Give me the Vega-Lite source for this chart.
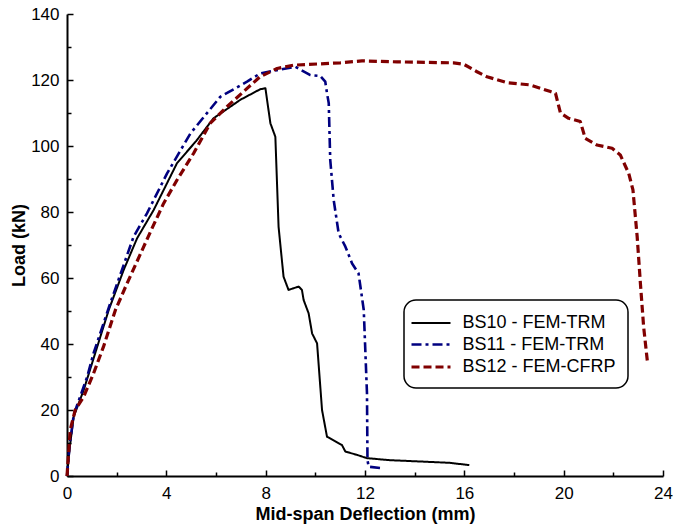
{
  "$schema": "https://vega.github.io/schema/vega-lite/v6.json",
  "width": 596,
  "height": 462,
  "autosize": {"type": "none"},
  "padding": {"left": 67, "top": 14, "right": 10, "bottom": 55},
  "background": "white",
  "config": {
    "view": {"stroke": null},
    "font": "Liberation Sans",
    "axis": {
      "grid": false,
      "domainColor": "black",
      "domainWidth": 2,
      "tickColor": "black",
      "tickWidth": 1.5,
      "labelFont": "Liberation Sans",
      "labelFontSize": 17,
      "labelColor": "black",
      "titleFont": "Liberation Sans",
      "titleFontSize": 18,
      "titleFontWeight": "bold",
      "titleColor": "black",
      "labelFlush": false,
      "labelOverlap": false
    }
  },
  "data": {
    "values": [
      {"s": "BS10 - FEM-TRM", "i": 0, "x": 0, "y": 0},
      {"s": "BS10 - FEM-TRM", "i": 1, "x": 0.1, "y": 8},
      {"s": "BS10 - FEM-TRM", "i": 2, "x": 0.27, "y": 18},
      {"s": "BS10 - FEM-TRM", "i": 3, "x": 0.67, "y": 26},
      {"s": "BS10 - FEM-TRM", "i": 4, "x": 1.21, "y": 39},
      {"s": "BS10 - FEM-TRM", "i": 5, "x": 1.68, "y": 50.3},
      {"s": "BS10 - FEM-TRM", "i": 6, "x": 2.28, "y": 62.4},
      {"s": "BS10 - FEM-TRM", "i": 7, "x": 2.82, "y": 72},
      {"s": "BS10 - FEM-TRM", "i": 8, "x": 3.49, "y": 80.6},
      {"s": "BS10 - FEM-TRM", "i": 9, "x": 4.43, "y": 94.8},
      {"s": "BS10 - FEM-TRM", "i": 10, "x": 5.2, "y": 101.5},
      {"s": "BS10 - FEM-TRM", "i": 11, "x": 5.9, "y": 108.4},
      {"s": "BS10 - FEM-TRM", "i": 12, "x": 6.98, "y": 114},
      {"s": "BS10 - FEM-TRM", "i": 13, "x": 7.78, "y": 117.2},
      {"s": "BS10 - FEM-TRM", "i": 14, "x": 7.99, "y": 117.5},
      {"s": "BS10 - FEM-TRM", "i": 15, "x": 8.19, "y": 106.9},
      {"s": "BS10 - FEM-TRM", "i": 16, "x": 8.39, "y": 102.8},
      {"s": "BS10 - FEM-TRM", "i": 17, "x": 8.52, "y": 75.5},
      {"s": "BS10 - FEM-TRM", "i": 18, "x": 8.72, "y": 60.4},
      {"s": "BS10 - FEM-TRM", "i": 19, "x": 8.92, "y": 56.4},
      {"s": "BS10 - FEM-TRM", "i": 20, "x": 9.33, "y": 57.4},
      {"s": "BS10 - FEM-TRM", "i": 21, "x": 9.46, "y": 56.4},
      {"s": "BS10 - FEM-TRM", "i": 22, "x": 9.53, "y": 53.3},
      {"s": "BS10 - FEM-TRM", "i": 23, "x": 9.73, "y": 49.3},
      {"s": "BS10 - FEM-TRM", "i": 24, "x": 9.87, "y": 43.2},
      {"s": "BS10 - FEM-TRM", "i": 25, "x": 10.07, "y": 40.2},
      {"s": "BS10 - FEM-TRM", "i": 26, "x": 10.27, "y": 20},
      {"s": "BS10 - FEM-TRM", "i": 27, "x": 10.47, "y": 11.9},
      {"s": "BS10 - FEM-TRM", "i": 28, "x": 11.07, "y": 9.4},
      {"s": "BS10 - FEM-TRM", "i": 29, "x": 11.21, "y": 7.4},
      {"s": "BS10 - FEM-TRM", "i": 30, "x": 11.68, "y": 6.4},
      {"s": "BS10 - FEM-TRM", "i": 31, "x": 12.08, "y": 5.4},
      {"s": "BS10 - FEM-TRM", "i": 32, "x": 13.0, "y": 4.8},
      {"s": "BS10 - FEM-TRM", "i": 33, "x": 15.4, "y": 4.0},
      {"s": "BS10 - FEM-TRM", "i": 34, "x": 16.2, "y": 3.3},

      {"s": "BS11 - FEM-TRM", "i": 0, "x": 0, "y": 0},
      {"s": "BS11 - FEM-TRM", "i": 1, "x": 0.1, "y": 9},
      {"s": "BS11 - FEM-TRM", "i": 2, "x": 0.27, "y": 18.5},
      {"s": "BS11 - FEM-TRM", "i": 3, "x": 0.81, "y": 30},
      {"s": "BS11 - FEM-TRM", "i": 4, "x": 1.07, "y": 37.2},
      {"s": "BS11 - FEM-TRM", "i": 5, "x": 1.74, "y": 52.3},
      {"s": "BS11 - FEM-TRM", "i": 6, "x": 2.21, "y": 62.4},
      {"s": "BS11 - FEM-TRM", "i": 7, "x": 2.68, "y": 72.5},
      {"s": "BS11 - FEM-TRM", "i": 8, "x": 3.22, "y": 79.6},
      {"s": "BS11 - FEM-TRM", "i": 9, "x": 4.03, "y": 91.7},
      {"s": "BS11 - FEM-TRM", "i": 10, "x": 4.97, "y": 103.8},
      {"s": "BS11 - FEM-TRM", "i": 11, "x": 6.17, "y": 114.9},
      {"s": "BS11 - FEM-TRM", "i": 12, "x": 7.25, "y": 119.5},
      {"s": "BS11 - FEM-TRM", "i": 13, "x": 7.78, "y": 122},
      {"s": "BS11 - FEM-TRM", "i": 14, "x": 8.46, "y": 123},
      {"s": "BS11 - FEM-TRM", "i": 15, "x": 9.19, "y": 124},
      {"s": "BS11 - FEM-TRM", "i": 16, "x": 9.8, "y": 121.5},
      {"s": "BS11 - FEM-TRM", "i": 17, "x": 10.2, "y": 121.2},
      {"s": "BS11 - FEM-TRM", "i": 18, "x": 10.4, "y": 119.5},
      {"s": "BS11 - FEM-TRM", "i": 19, "x": 10.47, "y": 116},
      {"s": "BS11 - FEM-TRM", "i": 20, "x": 10.54, "y": 113},
      {"s": "BS11 - FEM-TRM", "i": 21, "x": 10.6, "y": 95.8},
      {"s": "BS11 - FEM-TRM", "i": 22, "x": 10.74, "y": 83.6},
      {"s": "BS11 - FEM-TRM", "i": 23, "x": 10.94, "y": 73.5},
      {"s": "BS11 - FEM-TRM", "i": 24, "x": 11.21, "y": 69.5},
      {"s": "BS11 - FEM-TRM", "i": 25, "x": 11.48, "y": 64.4},
      {"s": "BS11 - FEM-TRM", "i": 26, "x": 11.74, "y": 61.4},
      {"s": "BS11 - FEM-TRM", "i": 27, "x": 11.95, "y": 50.3},
      {"s": "BS11 - FEM-TRM", "i": 28, "x": 12.08, "y": 25},
      {"s": "BS11 - FEM-TRM", "i": 29, "x": 12.1, "y": 4.8},
      {"s": "BS11 - FEM-TRM", "i": 30, "x": 12.15, "y": 2.8},
      {"s": "BS11 - FEM-TRM", "i": 31, "x": 12.75, "y": 2.3},

      {"s": "BS12 - FEM-CFRP", "i": 0, "x": 0, "y": 0},
      {"s": "BS12 - FEM-CFRP", "i": 1, "x": 0.13, "y": 14},
      {"s": "BS12 - FEM-CFRP", "i": 2, "x": 0.33, "y": 20},
      {"s": "BS12 - FEM-CFRP", "i": 3, "x": 0.67, "y": 24},
      {"s": "BS12 - FEM-CFRP", "i": 4, "x": 1.07, "y": 31.1},
      {"s": "BS12 - FEM-CFRP", "i": 5, "x": 1.47, "y": 39.2},
      {"s": "BS12 - FEM-CFRP", "i": 6, "x": 1.95, "y": 50.3},
      {"s": "BS12 - FEM-CFRP", "i": 7, "x": 2.42, "y": 58.4},
      {"s": "BS12 - FEM-CFRP", "i": 8, "x": 3.09, "y": 69.5},
      {"s": "BS12 - FEM-CFRP", "i": 9, "x": 3.36, "y": 74},
      {"s": "BS12 - FEM-CFRP", "i": 10, "x": 3.89, "y": 82.6},
      {"s": "BS12 - FEM-CFRP", "i": 11, "x": 4.43, "y": 89.7},
      {"s": "BS12 - FEM-CFRP", "i": 12, "x": 5.1, "y": 97.8},
      {"s": "BS12 - FEM-CFRP", "i": 13, "x": 5.77, "y": 106.9},
      {"s": "BS12 - FEM-CFRP", "i": 14, "x": 6.44, "y": 111.9},
      {"s": "BS12 - FEM-CFRP", "i": 15, "x": 7.11, "y": 116.5},
      {"s": "BS12 - FEM-CFRP", "i": 16, "x": 7.78, "y": 121},
      {"s": "BS12 - FEM-CFRP", "i": 17, "x": 8.46, "y": 123.5},
      {"s": "BS12 - FEM-CFRP", "i": 18, "x": 9.13, "y": 124.5},
      {"s": "BS12 - FEM-CFRP", "i": 19, "x": 11.0, "y": 125.2},
      {"s": "BS12 - FEM-CFRP", "i": 20, "x": 11.88, "y": 125.8},
      {"s": "BS12 - FEM-CFRP", "i": 21, "x": 13.29, "y": 125.5},
      {"s": "BS12 - FEM-CFRP", "i": 22, "x": 15.57, "y": 125.2},
      {"s": "BS12 - FEM-CFRP", "i": 23, "x": 15.97, "y": 124.8},
      {"s": "BS12 - FEM-CFRP", "i": 24, "x": 16.51, "y": 122.5},
      {"s": "BS12 - FEM-CFRP", "i": 25, "x": 16.91, "y": 121},
      {"s": "BS12 - FEM-CFRP", "i": 26, "x": 17.72, "y": 119.2},
      {"s": "BS12 - FEM-CFRP", "i": 27, "x": 18.66, "y": 118.5},
      {"s": "BS12 - FEM-CFRP", "i": 28, "x": 19.47, "y": 116.5},
      {"s": "BS12 - FEM-CFRP", "i": 29, "x": 19.67, "y": 116},
      {"s": "BS12 - FEM-CFRP", "i": 30, "x": 19.87, "y": 110},
      {"s": "BS12 - FEM-CFRP", "i": 31, "x": 20.2, "y": 108.4},
      {"s": "BS12 - FEM-CFRP", "i": 32, "x": 20.67, "y": 107.4},
      {"s": "BS12 - FEM-CFRP", "i": 33, "x": 20.87, "y": 102.3},
      {"s": "BS12 - FEM-CFRP", "i": 34, "x": 21.34, "y": 100.3},
      {"s": "BS12 - FEM-CFRP", "i": 35, "x": 21.95, "y": 99.3},
      {"s": "BS12 - FEM-CFRP", "i": 36, "x": 22.28, "y": 97.3},
      {"s": "BS12 - FEM-CFRP", "i": 37, "x": 22.62, "y": 91.7},
      {"s": "BS12 - FEM-CFRP", "i": 38, "x": 22.79, "y": 86.7},
      {"s": "BS12 - FEM-CFRP", "i": 39, "x": 22.96, "y": 72.5},
      {"s": "BS12 - FEM-CFRP", "i": 40, "x": 23.09, "y": 58.4},
      {"s": "BS12 - FEM-CFRP", "i": 41, "x": 23.22, "y": 45.2},
      {"s": "BS12 - FEM-CFRP", "i": 42, "x": 23.38, "y": 34.1}
    ]
  },
  "mark": {"type": "line", "strokeCap": "butt", "strokeJoin": "round", "clip": false},
  "encoding": {
    "x": {
      "field": "x",
      "type": "quantitative",
      "scale": {"domain": [0, 24], "nice": false, "zero": true},
      "axis": {
        "title": "Mid-span Deflection (mm)",
        "values": [0, 2, 4, 6, 8, 10, 12, 14, 16, 18, 20, 22, 24],
        "labelExpr": "datum.value % 4 === 0 ? datum.label : ''",
        "tickSize": {"condition": {"test": "datum.value % 4 === 0", "value": -6}, "value": -4},
        "labelPadding": 15,
        "titlePadding": 2
      }
    },
    "y": {
      "field": "y",
      "type": "quantitative",
      "scale": {"domain": [0, 140], "nice": false},
      "axis": {
        "title": "Load (kN)",
        "values": [0, 10, 20, 30, 40, 50, 60, 70, 80, 90, 100, 110, 120, 130, 140],
        "labelExpr": "datum.value % 20 === 0 ? datum.label : ''",
        "tickSize": {"condition": {"test": "datum.value % 20 === 0", "value": -6}, "value": -4},
        "labelPadding": 14,
        "titleX": -39,
        "titleY": 231
      }
    },
    "order": {"field": "i", "type": "quantitative"},
    "color": {
      "field": "s",
      "type": "nominal",
      "scale": {"domain": ["BS10 - FEM-TRM", "BS11 - FEM-TRM", "BS12 - FEM-CFRP"], "range": ["#000000", "#000080", "#800000"]},
      "legend": {
        "orient": "none",
        "legendX": 337,
        "legendY": 286,
        "title": null,
        "symbolType": "M-1.95,0H1.95",
        "symbolSize": 400,
        "symbolStrokeWidth": 3.5,
        "symbolOffset": 3,
        "labelFont": "Liberation Sans",
        "labelFontSize": 18,
        "labelColor": "black",
        "labelOffset": 19.5,
        "strokeColor": "black",
        "fillColor": "white",
        "cornerRadius": 12,
        "padding": 12,
        "rowPadding": 1,
        "encode": {
          "legend": {"update": {"strokeWidth": {"value": 1.5}}},
          "symbols": {"update": {"strokeWidth": {"value": 3.5}}}
        }
      }
    },
    "strokeDash": {
      "field": "s",
      "type": "nominal",
      "scale": {"domain": ["BS10 - FEM-TRM", "BS11 - FEM-TRM", "BS12 - FEM-CFRP"], "range": [[1, 0], [10, 4, 3, 4], [8, 4]]}
    },
    "strokeWidth": {
      "field": "s",
      "type": "ordinal",
      "scale": {"domain": ["BS10 - FEM-TRM", "BS11 - FEM-TRM", "BS12 - FEM-CFRP"], "range": [2, 3.2, 4]},
      "legend": null
    }
  }
}
